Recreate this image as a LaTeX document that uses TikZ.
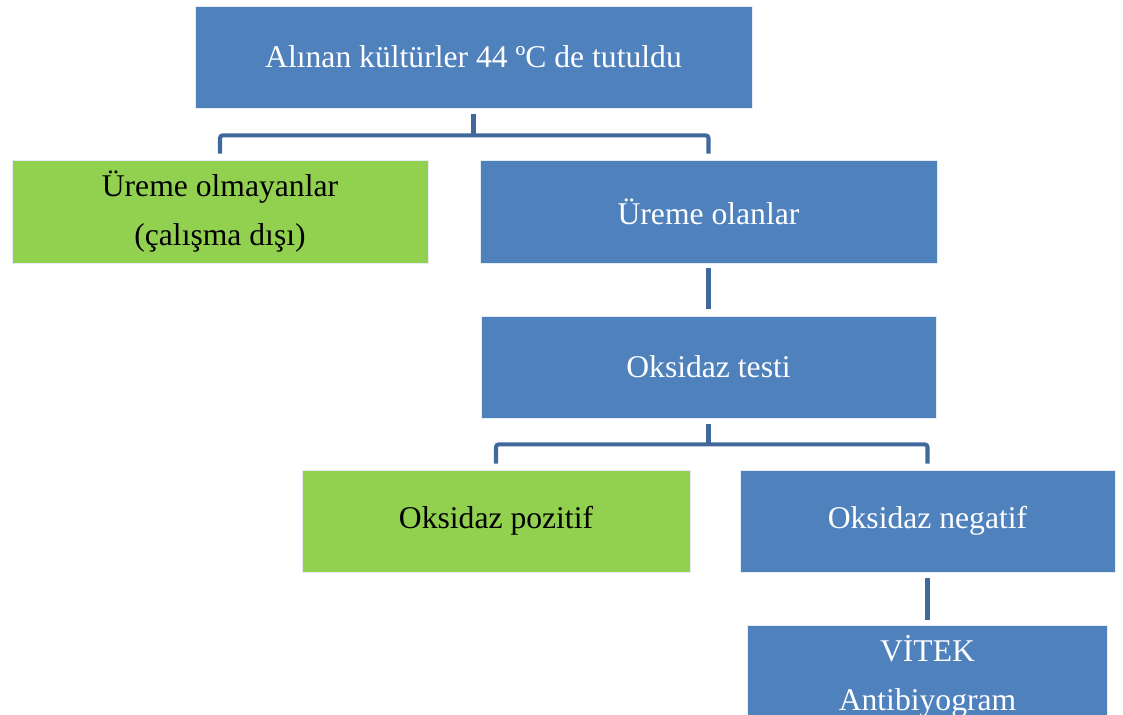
\documentclass[tikz,border=0pt]{standalone}
\usepackage{fontspec}
\setmainfont{Liberation Serif}
\usepackage{tikz}
\usetikzlibrary{positioning}
\definecolor{smblue}{RGB}{79,129,189}
\definecolor{smgreen}{RGB}{146,208,80}
\definecolor{smline}{RGB}{65,104,156}

\begin{document}
\begin{tikzpicture}[
  every node/.style={font=\fontsize{18}{28}\selectfont},
  bx/.style={draw=white!85!smblue,line width=0.5pt,minimum height=2.04cm,align=center,inner sep=0pt},
  bluebox/.style={bx,fill=smblue,text=white},
  greenbox/.style={bx,fill=smgreen,text=black},
  conn/.style={draw=smline,line width=2.3pt,rounded corners=1.5pt}
]
\useasboundingbox (0,0) rectangle (22.46,-14.3);
\begin{scope}
\clip (0,0) rectangle (22.46,-14.3);

\node[bluebox,minimum width=11.14cm] (ust) at (9.47,-1.14) {Alınan kültürler 44 ºC de tutuldu};
\node[greenbox,minimum width=8.32cm,minimum height=2.06cm] (yok) at (4.40,-4.23) {Üreme olmayanlar\\(çalışma dışı)};
\node[bluebox,minimum width=9.14cm,minimum height=2.06cm] (var) at (14.17,-4.23) {Üreme olanlar};
\node[bluebox,minimum width=9.10cm] (test) at (14.17,-7.34) {Oksidaz testi};
\node[greenbox,minimum width=7.76cm] (poz) at (9.92,-10.42) {Oksidaz pozitif};
\node[bluebox,minimum width=7.50cm] (neg) at (18.55,-10.42) {Oksidaz negatif};
\node[bluebox,minimum width=7.20cm] (vitek) at (18.55,-13.52) {VİTEK\\Antibiyogram};

% Brackets
\draw[conn] ([yshift=-0.12cm]ust.south) -- ++(0,-0.42) coordinate (j1);
\draw[conn] ([yshift=0.12cm]yok.north) |- (j1) -| ([yshift=0.12cm]var.north);
\draw[conn] ([yshift=-0.12cm]test.south) -- ++(0,-0.40) coordinate (j2);
\draw[conn] ([yshift=0.12cm]poz.north) |- (j2) -| ([yshift=0.12cm]neg.north);

% Straight links
\draw[conn] ([yshift=-0.10cm]var.south) -- ([yshift=0.14cm]test.north);
\draw[conn] ([yshift=-0.12cm]neg.south) -- ([yshift=0.10cm]vitek.north);
\end{scope}
\end{tikzpicture}
\end{document}
